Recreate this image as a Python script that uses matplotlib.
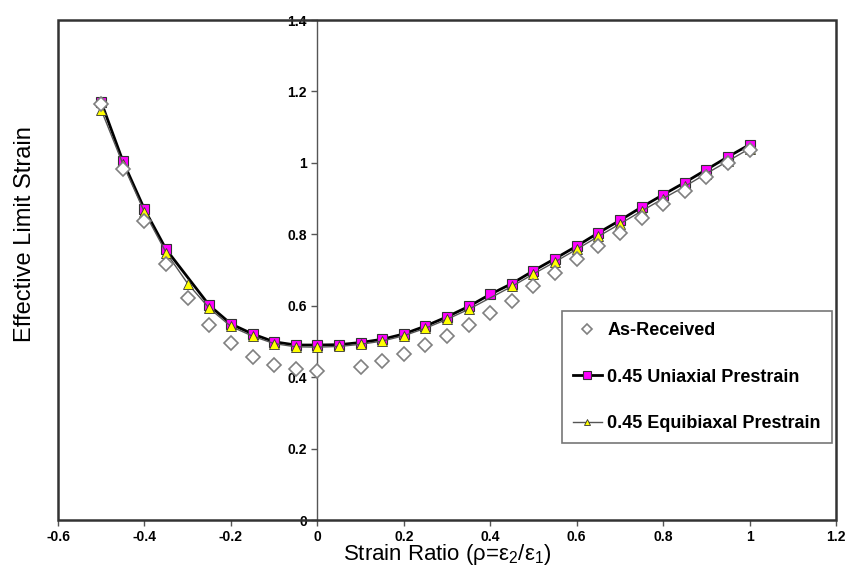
import matplotlib
matplotlib.use('Agg')
import matplotlib.pyplot as plt
from matplotlib.patches import Rectangle

plt.rcParams['font.family'] = ['Liberation Sans', 'DejaVu Sans']
plt.rcParams['axes.unicode_minus'] = False
plt.rcParams['mathtext.fontset'] = 'custom'
plt.rcParams['mathtext.rm'] = 'Liberation Sans'

# strain ratio values (each series has one point missing in the original)
asrec_x = [-0.5, -0.45, -0.4, -0.35, -0.3, -0.25, -0.2, -0.15, -0.1, -0.05, 0.0,
           0.1, 0.15, 0.2, 0.25, 0.3, 0.35, 0.4, 0.45, 0.5, 0.55, 0.6, 0.65,
           0.7, 0.75, 0.8, 0.85, 0.9, 0.95, 1.0]
asrec_y = [1.166, 0.984, 0.838, 0.716, 0.621, 0.545, 0.495, 0.457, 0.433, 0.422, 0.418,
           0.429, 0.445, 0.464, 0.489, 0.515, 0.547, 0.580, 0.613, 0.655, 0.691, 0.730, 0.767,
           0.805, 0.847, 0.884, 0.922, 0.961, 0.999, 1.035]

uni_x = [-0.5, -0.45, -0.4, -0.35, -0.25, -0.2, -0.15, -0.1, -0.05, 0.0,
         0.05, 0.1, 0.15, 0.2, 0.25, 0.3, 0.35, 0.4, 0.45, 0.5, 0.55, 0.6, 0.65,
         0.7, 0.75, 0.8, 0.85, 0.9, 0.95, 1.0]
uni_y = [1.170, 1.005, 0.870, 0.758, 0.601, 0.549, 0.521, 0.499, 0.490, 0.490,
         0.491, 0.497, 0.506, 0.521, 0.543, 0.569, 0.598, 0.632, 0.662, 0.698, 0.732, 0.767, 0.804,
         0.839, 0.876, 0.911, 0.945, 0.981, 1.017, 1.051]

equi_x = [-0.5, -0.45, -0.4, -0.35, -0.3, -0.25, -0.2, -0.15, -0.1, -0.05, 0.0,
          0.05, 0.1, 0.15, 0.2, 0.25, 0.3, 0.35, 0.45, 0.5, 0.55, 0.6, 0.65,
          0.7, 0.75, 0.8, 0.85, 0.9, 0.95, 1.0]
equi_y = [1.148, 0.997, 0.862, 0.749, 0.662, 0.593, 0.542, 0.515, 0.494, 0.485, 0.484,
          0.486, 0.492, 0.501, 0.516, 0.537, 0.562, 0.590, 0.654, 0.689, 0.723, 0.758, 0.794,
          0.829, 0.865, 0.900, 0.934, 0.970, 1.005, 1.040]

x_ticks = [-0.6, -0.4, -0.2, 0, 0.2, 0.4, 0.6, 0.8, 1, 1.2]
y_ticks = [0, 0.2, 0.4, 0.6, 0.8, 1, 1.2, 1.4]

fig = plt.figure(figsize=(8.61, 5.80), dpi=100)
ax = fig.add_axes([0.0674, 0.1034, 0.9036, 0.8621])

ax.plot(uni_x, uni_y, '-', color='black', lw=2, marker='s', markersize=7,
        mfc='#ff00ff', mec='#333333', mew=0.8, zorder=3, label='0.45 Uniaxial Prestrain')
ax.plot(equi_x, equi_y, '-', color='#555555', lw=1, marker='^', markersize=6.5,
        mfc='#ffff00', mec='#333333', mew=0.6, zorder=4, label='0.45 Equibiaxal Prestrain')
ax.plot(asrec_x, asrec_y, linestyle='None', marker='D', markersize=7,
        mfc='white', mec='#808080', mew=1.2, zorder=5, label='As-Received')

ax.set_xlim(-0.6, 1.2)
ax.set_ylim(0, 1.4)

# y axis goes through x = 0, box frame around the plot
ax.spines['left'].set_position(('data', 0))
ax.spines['left'].set_color('#555555')
ax.spines['left'].set_linewidth(1)
for s in ['top', 'right', 'bottom']:
    ax.spines[s].set_visible(False)
ax.add_patch(Rectangle((0, 0), 1, 1, transform=ax.transAxes, fill=False,
                       edgecolor='#333333', lw=1.8, clip_on=False, zorder=6))

ax.set_xticks(x_ticks)
ax.set_xticklabels(['{:g}'.format(v) for v in x_ticks], fontsize=10, fontweight='bold')
ax.set_yticks(y_ticks)
ax.set_yticklabels(['{:g}'.format(v) for v in y_ticks], fontsize=10, fontweight='bold')
ax.tick_params(axis='both', direction='out', length=4, width=1, color='#555555')
ax.tick_params(axis='x', pad=3)

ax.set_xlabel('Strain Ratio (ρ=ε$_2$/ε$_1$)', fontsize=16, labelpad=-1)
fig.text(0.029, 0.597, 'Effective Limit Strain', rotation=90, fontsize=17,
         ha='center', va='center')

handles, labels = ax.get_legend_handles_labels()
order = [2, 0, 1]
lgd = ax.legend([handles[i] for i in order], [labels[i] for i in order],
                loc='upper left', bbox_to_anchor=(0.648, 0.418), borderaxespad=0,
                frameon=True, fancybox=False,
                edgecolor='#555555', prop={'weight': 'bold', 'size': 13},
                handlelength=1.6, handletextpad=0.3, labelspacing=1.65, borderpad=0.6,
                markerscale=0.75)
lgd.get_frame().set_linewidth(1.2)

fig.savefig('out.png', dpi=100)
plt.close(fig)
